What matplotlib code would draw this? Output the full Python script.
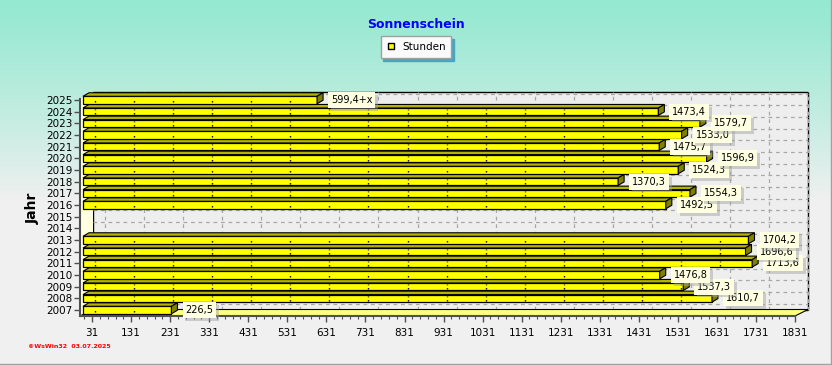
import numpy as np
import matplotlib.pyplot as plt
from matplotlib.patches import Polygon, Rectangle
from matplotlib.lines import Line2D
import matplotlib.patheffects as pe

# --- Data: sunshine hours per year (2014, 2015 missing) ---
years = [2007, 2008, 2009, 2010, 2011, 2012, 2013, 2016, 2017,
         2018, 2019, 2020, 2021, 2022, 2023, 2024, 2025]
hours = [226.5, 1610.7, 1537.3, 1476.8, 1713.6, 1696.6, 1704.2, 1492.5, 1554.3,
         1370.3, 1524.3, 1596.9, 1475.7, 1533.0, 1579.7, 1473.4, 599.4]
suffix = {2025: '+x'}
year_ticks = list(range(2007, 2026))
x_ticks = list(range(31, 1832, 100))
x_minor = list(range(11, 1832, 20))

W, H, DPI = 832, 365, 100
fig = plt.figure(figsize=(W / DPI, H / DPI), dpi=DPI)

# --- background gradient (mint -> light gray) ---
top = np.array([0x95, 0xe9, 0xd1]) / 255
low = np.array([0xf0, 0xf0, 0xf0]) / 255
t = np.clip(np.arange(H) / 200.0, 0, 1)[:, None] ** 1.2
grad = top * (1 - t) + low * t
bg = fig.add_axes([0, 0, 1, 1], zorder=-10)
bg.imshow(np.repeat(grad[:, None, :], 4, axis=1), aspect='auto', extent=[0, 1, 0, 1])
bg.axis('off')

# --- main axes (front plane) ---
x0, x1 = 80, 795
y_top, y_bot = 98.5, 316
ax = fig.add_axes([x0 / W, 1 - y_bot / H, (x1 - x0) / W, (y_bot - y_top) / H])
ax.patch.set_visible(False)
xmax = 1831
ylo, yhi = 2006.486, 2025.13
ax.set_xlim(0, xmax)
ax.set_ylim(ylo, yhi)

sx = (x1 - x0) / xmax          # px per hour
sy = (y_bot - y_top) / (yhi - ylo)  # px per year

# 3D depth of the walls and of the bars
wdx, wdy = 13 / sx, 6.5 / sy
bdx, bdy = 6 / sx, 3.5 / sy
b0 = 3 / sx   # bars sit a little behind the front plane

# back wall
ax.add_patch(Rectangle((wdx, ylo + wdy), xmax, yhi - ylo, fc='#eeeeee', ec='black',
                       lw=1, zorder=0, clip_on=False))
for xt in x_ticks:
    ax.plot([xt + wdx] * 2, [ylo + wdy, yhi + wdy], color='#a8a8a8', lw=0.9,
            ls=(0, (3, 3)), zorder=0.5, clip_on=False)
for yt in year_ticks:
    ax.plot([wdx, xmax + wdx], [yt + wdy] * 2, color='#a8a8a8', lw=0.9,
            ls=(0, (3, 3)), zorder=0.5, clip_on=False)

# left wall and floor
ax.add_patch(Polygon([(0, ylo), (0, yhi), (wdx, yhi + wdy), (wdx, ylo + wdy)],
                     closed=True, fc='#ffffe0', ec='none', zorder=1, clip_on=False))
ax.add_patch(Polygon([(0, ylo), (xmax, ylo), (xmax + wdx, ylo + wdy), (wdx, ylo + wdy)],
                     closed=True, fc='#ffff80', ec='black', lw=0.8, zorder=2, clip_on=False))

# --- 3D bars ---
h = 0.64
for i, (yr, v) in enumerate(zip(years, hours)):
    z = 3 + i * 0.01
    ax.barh(yr, v, left=b0, height=h, color='#ffff00', edgecolor='black', lw=0.9,
            zorder=z, clip_on=False)
    e = b0 + v
    ax.add_patch(Polygon([(b0, yr + h / 2), (e, yr + h / 2), (e + bdx, yr + h / 2 + bdy),
                          (b0 + bdx, yr + h / 2 + bdy)], closed=True, fc='#b4b400',
                         ec='black', lw=0.8, zorder=z, clip_on=False))
    ax.add_patch(Polygon([(e, yr - h / 2), (e, yr + h / 2), (e + bdx, yr + h / 2 + bdy),
                          (e + bdx, yr - h / 2 + bdy)], closed=True, fc='#808000',
                         ec='black', lw=0.8, zorder=z, clip_on=False))
    for xt in x_ticks:
        if xt + b0 < e - 2 / sx:
            ax.plot([xt + b0] * 2, [yr - h / 2 + 1.5 / sy, yr + h / 2 - 1.5 / sy],
                    color='black', lw=1, ls=(0, (1, 2)), zorder=z + 0.005, clip_on=False)

# --- value labels ---
for i, (yr, v) in enumerate(zip(years, hours)):
    lab = f'{v:.1f}'.replace('.', ',') + suffix.get(yr, '')
    txt = ax.annotate(lab, (v + b0, yr), xytext=(14, 0), textcoords='offset pixels',
                      ha='left', va='center', fontsize=7, zorder=10 + i,
                      bbox=dict(boxstyle='square,pad=0.3', fc='#ffffe1', ec='none'),
                      annotation_clip=False)
    txt.get_bbox_patch().set_path_effects(
        [pe.withSimplePatchShadow(offset=(2, -2), shadow_rgbFace='#a0a0a0', alpha=0.45)])

# --- axes, ticks ---
ax.set_yticks(year_ticks)
ax.set_yticklabels([str(y) for y in year_ticks])
ax.set_xticks(x_ticks)
ax.set_xticks(x_minor, minor=True)
ax.tick_params(axis='y', length=4, width=1, color='#505050', pad=1.5, labelsize=7.5)
ax.tick_params(axis='x', which='major', length=4, width=1, color='#505050', pad=5, labelsize=7.5)
ax.tick_params(axis='x', which='minor', length=2, width=0.8, color='#505050')
for s in ['top', 'right']:
    ax.spines[s].set_visible(False)
for s in ['left', 'bottom']:
    ax.spines[s].set_color('#505050')
    ax.spines[s].set_linewidth(1.5)
    ax.spines[s].set_zorder(5)

# --- texts ---
fig.text(416.5 / W, 1 - 24 / H, 'Sonnenschein', ha='center', va='center',
         color='#0000ff', fontweight='bold', fontsize=9)
fig.text(33 / W, 1 - 208.5 / H, 'Jahr', rotation=90, ha='center', va='center',
         fontweight='bold', fontsize=10)
fig.text(28 / W, 1 - 347 / H, '©WsWin32  03.07.2025', ha='left', va='center',
         color='red', fontweight='bold', fontsize=4.5)

handle = Line2D([], [], marker='s', ls='none', mfc='#ffff00', mec='black', ms=5)
fig.legend([handle], ['Stunden'], loc='center', bbox_to_anchor=(416 / W, 1 - 47 / H),
           fancybox=False, edgecolor='#a0a0a0', facecolor='#fafafa', framealpha=1,
           fontsize=7.5, handlelength=0.8, handletextpad=0.7, borderpad=0.55,
           shadow={'color': '#4aa6c0', 'alpha': 1})

# outer frame (right and bottom)
fig.add_artist(Line2D([830.5 / W] * 2, [1 - 363.5 / H, 1], transform=fig.transFigure,
                      color='#a0a0a0', lw=1))
fig.add_artist(Line2D([0, 830.5 / W], [1 - 363.5 / H] * 2, transform=fig.transFigure,
                      color='#a0a0a0', lw=1))

fig.savefig('out.png', dpi=DPI)
